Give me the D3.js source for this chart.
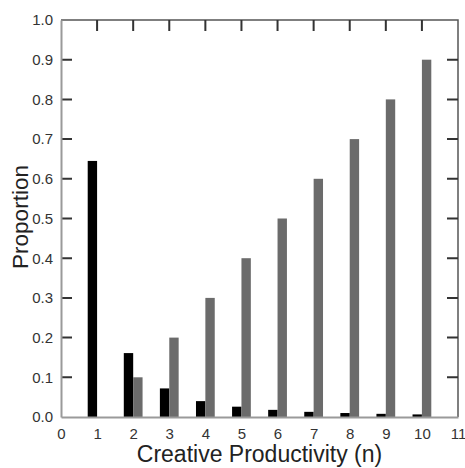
<!DOCTYPE html>
<html>
<head>
<meta charset="utf-8">
<script src="https://cdn.jsdelivr.net/npm/d3@7"></script>
<style>
  body { margin: 0; background: #fff; }
</style>
</head>
<body>
<svg id="container" width="465" height="468"></svg>
<script>
const productivity = [1, 2, 3, 4, 5, 6, 7, 8, 9, 10];
const observed = [0.645, 0.161, 0.072, 0.040, 0.026, 0.018, 0.013, 0.010, 0.008, 0.0065];
const predicted = [0, 0.1, 0.2, 0.3, 0.4, 0.5, 0.6, 0.7, 0.8, 0.9];
const xTicks = d3.range(0, 12);
const yTicks = [0, 0.1, 0.2, 0.3, 0.4, 0.5, 0.6, 0.7, 0.8, 0.9, 1.0];
const innerYTicks = [0.1, 0.2, 0.3, 0.4, 0.5, 0.6, 0.7, 0.8, 0.9];

const MARGIN = { TOP: 20, RIGHT: 7, BOTTOM: 51, LEFT: 61 };
const width = 465, height = 468;
const BAR_W = 0.26;
const TICK = 11;

const svg = d3.select("#container").style('font-family', '"Liberation Sans", Arial, sans-serif');

const x = d3.scaleLinear().domain([0, 11]).range([MARGIN.LEFT, width - MARGIN.RIGHT]);
const y = d3.scaleLinear().domain([0, 1]).range([height - MARGIN.BOTTOM, MARGIN.TOP]);

const rows = productivity.map((n, i) => ({ n: n, obs: observed[i], pred: predicted[i] }));

// bars
svg.append('g')
  .attr('class', 'observed')
  .selectAll('rect')
  .data(rows)
  .enter()
  .append('rect')
  .attr('x', d => x(d.n - BAR_W))
  .attr('width', d => x(d.n) - x(d.n - BAR_W))
  .attr('y', d => y(d.obs))
  .attr('height', d => y(0) - y(d.obs))
  .attr('fill', '#000');

svg.append('g')
  .attr('class', 'predicted')
  .selectAll('rect')
  .data(rows.filter(d => d.pred > 0))
  .enter()
  .append('rect')
  .attr('x', d => x(d.n))
  .attr('width', d => x(d.n + BAR_W) - x(d.n))
  .attr('y', d => y(d.pred))
  .attr('height', d => y(0) - y(d.pred))
  .attr('fill', '#6b6b6b');

// frame: top and right darker
const frame = d3.path();
frame.moveTo(x(0), y(1));
frame.lineTo(x(11), y(1));
frame.lineTo(x(11), y(0));
svg.append('path')
  .attr('d', frame.toString())
  .attr('fill', 'none')
  .attr('stroke', '#555')
  .attr('stroke-width', 1.5);

// inward tick marks on left, right and top, one path
const tk = d3.path();
innerYTicks.forEach(v => {
  tk.moveTo(x(0), y(v));
  tk.lineTo(x(0) + TICK, y(v));
  tk.moveTo(x(11), y(v));
  tk.lineTo(x(11) - TICK, y(v));
});
productivity.forEach(n => {
  tk.moveTo(x(n), y(1));
  tk.lineTo(x(n), y(1) + TICK);
});
svg.append('path')
  .attr('class', 'tickmarks')
  .attr('d', tk.toString())
  .attr('fill', 'none')
  .attr('stroke', '#333')
  .attr('stroke-width', 2);

// labelled axes
const axisL = svg.append('g')
  .attr('transform', `translate(${MARGIN.LEFT},0)`)
  .call(d3.axisLeft(y).tickValues(yTicks).tickFormat(d3.format('.1f')).tickSize(0).tickPadding(8));

const axisB = svg.append('g')
  .attr('transform', `translate(0,${height - MARGIN.BOTTOM})`)
  .call(d3.axisBottom(x).tickValues(xTicks).tickFormat(d3.format('d')).tickSize(0).tickPadding(11));

[axisL, axisB].forEach(g => {
  g.select('.domain').attr('stroke', '#9a9a9a').attr('stroke-width', 2);
  g.selectAll('.tick text')
    .attr('font-size', 15)
    .attr('font-family', '"Liberation Sans", Arial, sans-serif')
    .attr('fill', '#333');
});

// titles
svg.append('text')
  .attr('x', (x.range()[0] + x.range()[1]) / 2)
  .attr('y', 462)
  .attr('text-anchor', 'middle')
  .attr('font-size', 23)
  .attr('fill', '#222')
  .text('Creative Productivity (n)');

svg.append('text')
  .attr('transform', 'translate(28,217) rotate(-90)')
  .attr('text-anchor', 'middle')
  .attr('font-size', 22.5)
  .attr('fill', '#222')
  .text('Proportion');
</script>
</body>
</html>
